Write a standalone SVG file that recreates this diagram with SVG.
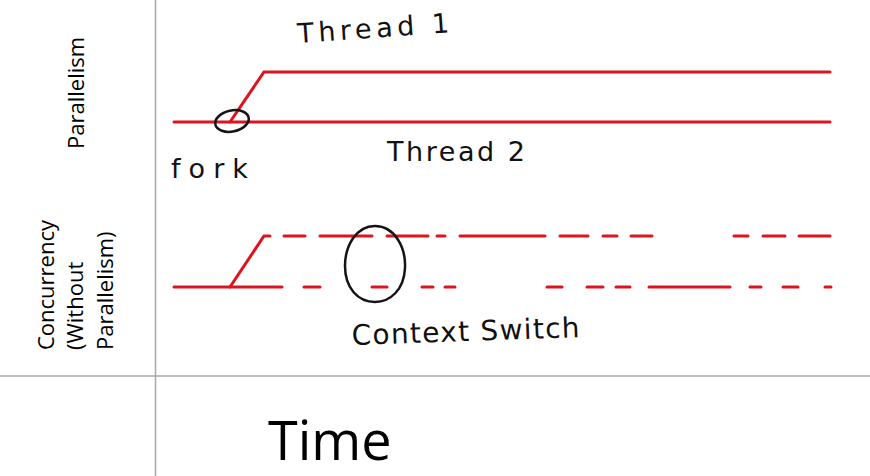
<svg xmlns="http://www.w3.org/2000/svg" width="870" height="476" viewBox="0 0 870 476">
<style>
.grid{stroke:#a6a6a6;stroke-width:1.5;fill:none}
.thr{stroke:#dc1420;stroke-width:3;fill:none;stroke-linecap:round}
.ink{stroke:#141414;stroke-width:2.5;fill:none}
.lab{font-family:"Open Sans","Liberation Sans",sans-serif;font-size:22px;fill:#000}
.hand{font-family:"DejaVu Sans","Liberation Sans",sans-serif;fill:#111;font-weight:normal}
</style>
<rect width="870" height="476" fill="#fff"/>
<g id="grid">
<line class="grid" x1="155.5" y1="0" x2="155.5" y2="476"/>
<line class="grid" x1="0" y1="376" x2="870" y2="376"/>
</g>
<g id="row-labels">
<text class="lab" transform="translate(84,149) rotate(-90)">Parallelism</text>
<text class="lab" transform="translate(54,350) rotate(-90)">Concurrency</text>
<text class="lab" transform="translate(83,350) rotate(-90)">(Without</text>
<text class="lab" transform="translate(113,350) rotate(-90)">Parallelism)</text>
</g>
<g id="connectors">
<g id="parallel-threads">
<polyline class="thr" points="174,122 830,122"/>
<polyline class="thr" points="230,122 264,72 830,72"/>
</g>
<g id="concurrent-threads">
<polyline class="thr" points="174,287 282,287"/>
<polyline class="thr" points="230,287 264,236 270,236"/>
<line class="thr" x1="284" y1="236" x2="305" y2="236"/>
<line class="thr" x1="320" y1="236" x2="372" y2="236"/>
<line class="thr" x1="387" y1="236" x2="428" y2="236"/>
<line class="thr" x1="437" y1="236" x2="445" y2="236"/>
<line class="thr" x1="460" y1="236" x2="545" y2="236"/>
<line class="thr" x1="560" y1="236" x2="588" y2="236"/>
<line class="thr" x1="603" y1="236" x2="617" y2="236"/>
<line class="thr" x1="631" y1="236" x2="652" y2="236"/>
<line class="thr" x1="734" y1="236" x2="748" y2="236"/>
<line class="thr" x1="763" y1="236" x2="785" y2="236"/>
<line class="thr" x1="799" y1="236" x2="830" y2="236"/>
<line class="thr" x1="304" y1="287" x2="320" y2="287"/>
<line class="thr" x1="372" y1="287" x2="387" y2="287"/>
<line class="thr" x1="422" y1="287" x2="433" y2="287"/>
<line class="thr" x1="445" y1="287" x2="455" y2="287"/>
<line class="thr" x1="547" y1="287" x2="562" y2="287"/>
<line class="thr" x1="587" y1="287" x2="603" y2="287"/>
<line class="thr" x1="616" y1="287" x2="630" y2="287"/>
<line class="thr" x1="649" y1="287" x2="730" y2="287"/>
<line class="thr" x1="750" y1="287" x2="761" y2="287"/>
<line class="thr" x1="783" y1="287" x2="798" y2="287"/>
<line class="thr" x1="825" y1="287" x2="831" y2="287"/>
</g>
</g>
<g id="fork">
<ellipse class="ink" cx="232" cy="121" rx="17" ry="10.5" transform="rotate(-12 232 121)"/>
<text class="hand" x="171" y="178" font-size="27" textLength="77" lengthAdjust="spacing">fork</text>
</g>
<g id="context-switch">
<path class="ink" d="M375,226 C395,226 406,248 405,268 C404,290 390,302 375,302 C358,302 345,288 345,266 C345,246 356,226 375,226 Z"/>
<text class="hand" x="352" y="345" font-size="28" textLength="228" lengthAdjust="spacing" transform="rotate(-2 352 345)">Context Switch</text>
</g>
<g id="thread-labels">
<text class="hand" x="298" y="43" font-size="27" textLength="152" lengthAdjust="spacing" transform="rotate(-4 298 43)">Thread 1</text>
<text class="hand" x="387" y="161" font-size="27" textLength="138" lengthAdjust="spacing">Thread 2</text>
</g>
<g id="axis">
<text x="268" y="460" font-family="Open Sans, Liberation Sans, sans-serif" font-size="54" fill="#000">Time</text>
</g>
</svg>
